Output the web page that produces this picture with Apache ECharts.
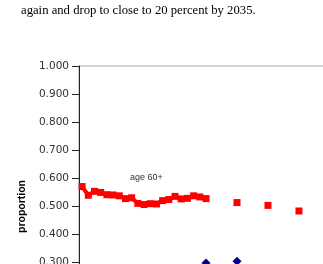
<!DOCTYPE html>
<html>
<head>
<meta charset="utf-8">
<script src="https://cdn.jsdelivr.net/npm/echarts@6/dist/echarts.min.js"></script>
<style>
  html, body { margin: 0; padding: 0; background: #fff; }
  #chart { width: 323px; height: 264px; }
</style>
</head>
<body>
<div id="chart"></div>
<script>
// years on the category axis (annual), values null where no observation
const years = [];
for (let y = 2000; y <= 2050; y++) years.push(String(y));

// age 60+ share, annual 2000-2020 then 5-yearly
const age60Years = [2000, 2001, 2002, 2003, 2004, 2005, 2006, 2007, 2008, 2009, 2010,
  2011, 2012, 2013, 2014, 2015, 2016, 2017, 2018, 2019, 2020, 2025, 2030, 2035];
const age60Values = [0.571, 0.540, 0.554, 0.550, 0.542, 0.541, 0.538, 0.528, 0.531, 0.511, 0.507,
  0.510, 0.509, 0.521, 0.525, 0.536, 0.527, 0.529, 0.538, 0.534, 0.528, 0.514, 0.504, 0.484];

// second group, mostly below the visible window
const otherYears = age60Years;
const otherValues = [0.242, 0.238, 0.245, 0.246, 0.248, 0.250, 0.249, 0.252, 0.253, 0.255, 0.256,
  0.257, 0.258, 0.260, 0.262, 0.263, 0.265, 0.266, 0.268, 0.272, 0.299, 0.305, 0.275, 0.262];

function toCategorySeries(ys, vs) {
  const out = years.map(() => null);
  ys.forEach((y, i) => { out[years.indexOf(String(y))] = vs[i]; });
  return out;
}

const chart = echarts.init(document.getElementById('chart'), null, { renderer: 'canvas' });

chart.setOption({
  animation: false,
  backgroundColor: '#fff',
  grid: {
    left: 79, top: 66, width: 316, height: 281, outerBoundsMode: 'none',
    show: true, borderColor: '#a6a6a6', borderWidth: 1, backgroundColor: 'transparent'
  },
  xAxis: {
    type: 'category', data: years, boundaryGap: true,
    axisLine: { show: false }, axisTick: { show: false }, axisLabel: { show: false },
    splitLine: { show: false }
  },
  yAxis: {
    type: 'value', min: 0, max: 1, interval: 0.1,
    name: 'proportion', nameLocation: 'middle', nameGap: 47,
    nameTextStyle: { fontFamily: 'Liberation Sans', fontWeight: 'bold', fontSize: 10.5, color: '#000' },
    axisLine: { show: true, lineStyle: { color: '#222', width: 1 } },
    axisTick: { show: true, length: 7, lineStyle: { color: '#222' } },
    axisLabel: {
      margin: 10, fontFamily: 'DejaVu Sans', fontSize: 10.5, color: '#333',
      formatter: v => v.toFixed(3)
    },
    splitLine: { show: false }
  },
  series: [
    {
      name: 'age 60+', type: 'line', data: toCategorySeries(age60Years, age60Values),
      connectNulls: false, symbol: 'rect', symbolSize: 7, showAllSymbol: true,
      itemStyle: { color: '#ff0000' }, lineStyle: { color: '#ff0000', width: 4 }
    },
    {
      name: 'other', type: 'line', data: toCategorySeries(otherYears, otherValues),
      connectNulls: false, symbol: 'diamond', symbolSize: 9, showAllSymbol: true,
      itemStyle: { color: '#000080' }, lineStyle: { color: '#000080', width: 2 }
    }
  ],
  graphic: [
    {
      type: 'text', left: 21, top: 4,
      style: { text: 'again and drop to close to 20 percent by 2035.', font: '12.7px "Liberation Serif"', fill: '#000' }
    },
    {
      type: 'text', left: 130, top: 173,
      style: { text: 'age 60+', font: '9px "Liberation Sans"', fill: '#333' }
    }
  ]
});
</script>
</body>
</html>
